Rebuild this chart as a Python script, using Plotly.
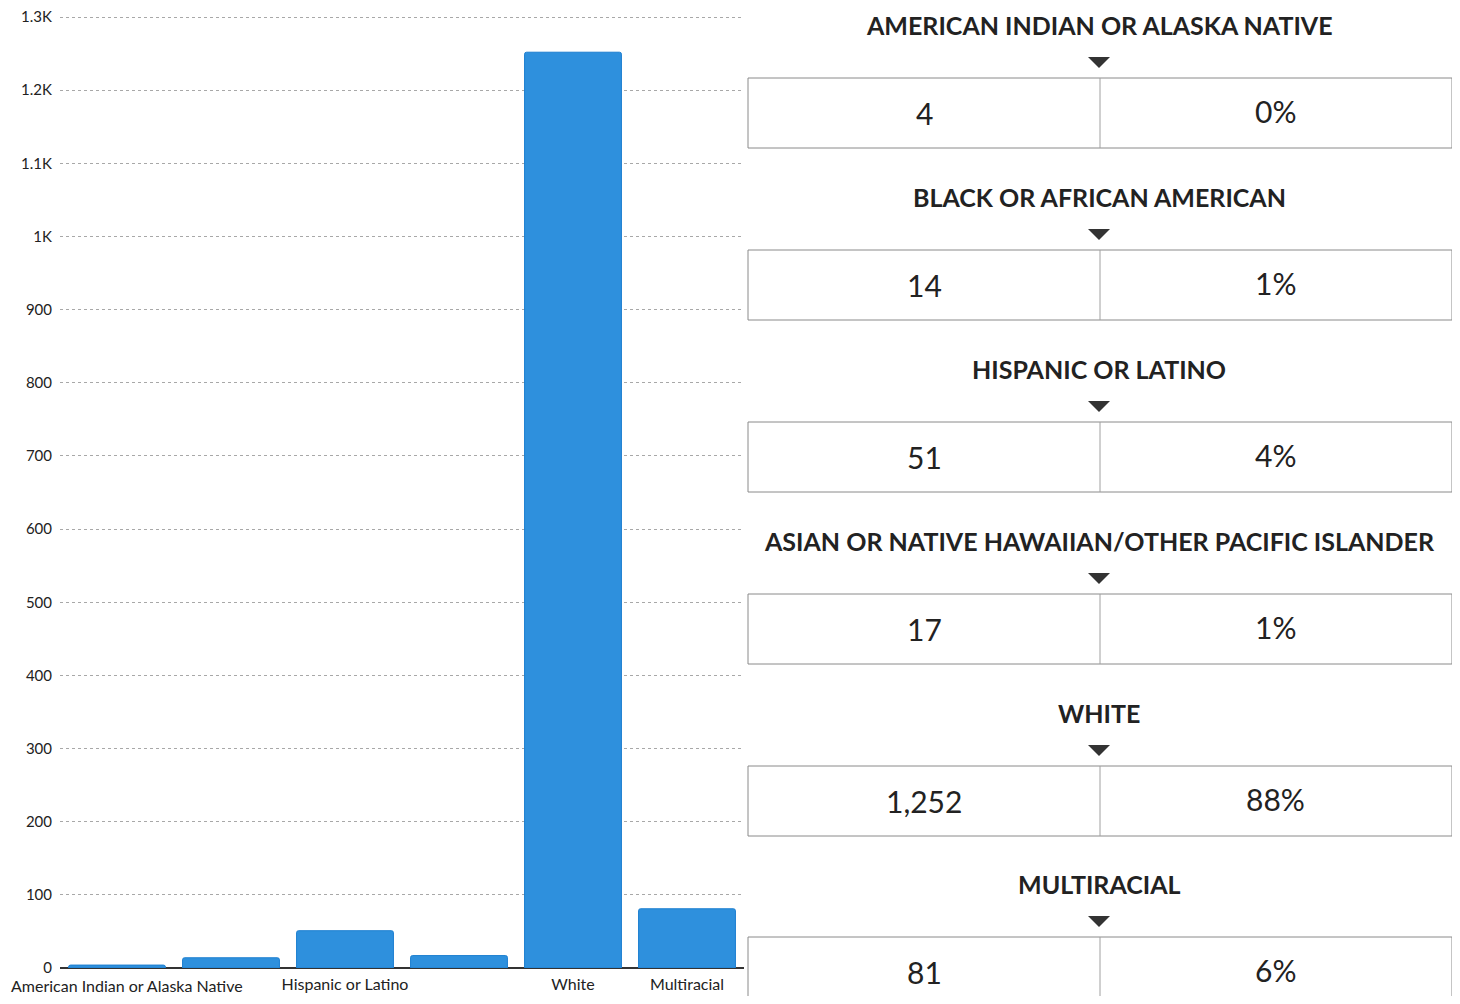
import plotly.graph_objs as go

W, H = 1460, 1004
PAD = 8  # page body margin around the plot div

categories = [
    "American Indian or Alaska Native",
    "Black or African American",
    "Hispanic or Latino",
    "Asian or Native Hawaiian/Other Pacific Islander",
    "White",
    "Multiracial",
]
counts = [4, 14, 51, 17, 1252, 81]
percents = ["0%", "1%", "4%", "1%", "88%", "6%"]
shown_ticks = ["Hispanic or Latino", "White", "Multiracial"]
y_ticks = [0, 100, 200, 300, 400, 500, 600, 700, 800, 900, 1000, 1100, 1200, 1300]
y_tick_labels = ["0", "100", "200", "300", "400", "500", "600", "700", "800", "900",
                 "1K", "1.1K", "1.2K", "1.3K"]

FONT = "Lato, 'Open Sans', sans-serif"
BLUE = "#2E90DD"

FW, FH = W - 2 * PAD, H - 2 * PAD


def px(x):
    return (x - PAD) / FW


def py(y):
    return 1 - (y - PAD) / FH


fig = go.Figure()
fig.add_trace(
    go.Bar(
        x=categories,
        y=counts,
        marker_color=BLUE,
        marker_line=dict(color="#1D7FD0", width=1),
        showlegend=False,
    )
)

fig.update_layout(
    width=FW,
    height=FH,
    margin=dict(l=0, r=0, t=0, b=0),
    paper_bgcolor="white",
    plot_bgcolor="white",
    bargap=0.15,
    barcornerradius=2,
    font=dict(family=FONT, color="#222"),
    xaxis=dict(
        domain=[px(60), px(744)],
        range=[-0.5, len(categories) - 0.5],
        tickvals=shown_ticks,
        ticktext=shown_ticks,
        tickfont=dict(size=16, color="#222"),
        ticklabelstandoff=5,
        showgrid=False,
        showline=False,
        automargin=False,
        ticks="",
    ),
    yaxis=dict(
        domain=[py(968), py(16)],
        range=[0, 1301.5],
        tickvals=y_ticks,
        ticktext=y_tick_labels,
        tickfont=dict(size=15, color="#222"),
        ticklabelstandoff=7,
        ticklabeloverflow="allow",
        gridcolor="#a8a8a8",
        griddash="dot",
        gridwidth=1,
        zeroline=True,
        zerolinecolor="#333",
        zerolinewidth=1.5,
        automargin=False,
        ticks="",
    ),
)

# right-hand summary cards
shapes = []
annotations = []

# first category label sits a little right of its bar so it fits the page
annotations.append(dict(
    x=categories[0], xref="x", y=py(985), yref="paper",
    text=categories[0], showarrow=False, xshift=10,
    font=dict(size=16, family=FONT, color="#222"),
    xanchor="center", yanchor="middle",
))

title_y = [25, 197, 369, 541, 713, 884]
box_left, box_right, box_mid = 748, 1452, 1100
for cat, n, pct, ty in zip(categories, counts, percents, title_y):
    top = ty + 53
    bottom = top + 70
    annotations.append(dict(
        x=px(1099), y=py(ty), xref="paper", yref="paper",
        text=cat.upper(), showarrow=False,
        font=dict(size=25, family=FONT, color="#222", weight="bold"),
        xanchor="center", yanchor="middle",
    ))
    # small downward triangle
    ax, ay = 1099, ty + 37
    shapes.append(dict(
        type="path", xref="paper", yref="paper",
        path=f"M {px(ax - 11)} {py(ay - 5)} L {px(ax + 11)} {py(ay - 5)} L {px(ax)} {py(ay + 6)} Z",
        fillcolor="#333", line=dict(width=0),
    ))
    shapes.append(dict(
        type="rect", xref="paper", yref="paper",
        x0=px(box_left), x1=px(box_right), y0=py(bottom), y1=py(top),
        line=dict(color="#8a8a8a", width=1), fillcolor="rgba(0,0,0,0)",
    ))
    shapes.append(dict(
        type="line", xref="paper", yref="paper",
        x0=px(box_mid), x1=px(box_mid), y0=py(bottom), y1=py(top),
        line=dict(color="#a0a0a0", width=1),
    ))
    annotations.append(dict(
        x=px(924), y=py(top + 35), xref="paper", yref="paper",
        text=f"{n:,}", showarrow=False,
        font=dict(size=30, family=FONT, color="#222"),
        xanchor="center", yanchor="middle",
    ))
    annotations.append(dict(
        x=px(1275), y=py(top + 33), xref="paper", yref="paper",
        text=pct, showarrow=False,
        font=dict(size=30, family=FONT, color="#222"),
        xanchor="center", yanchor="middle",
    ))

fig.update_layout(shapes=shapes, annotations=annotations)

fig.write_html("out.html")
